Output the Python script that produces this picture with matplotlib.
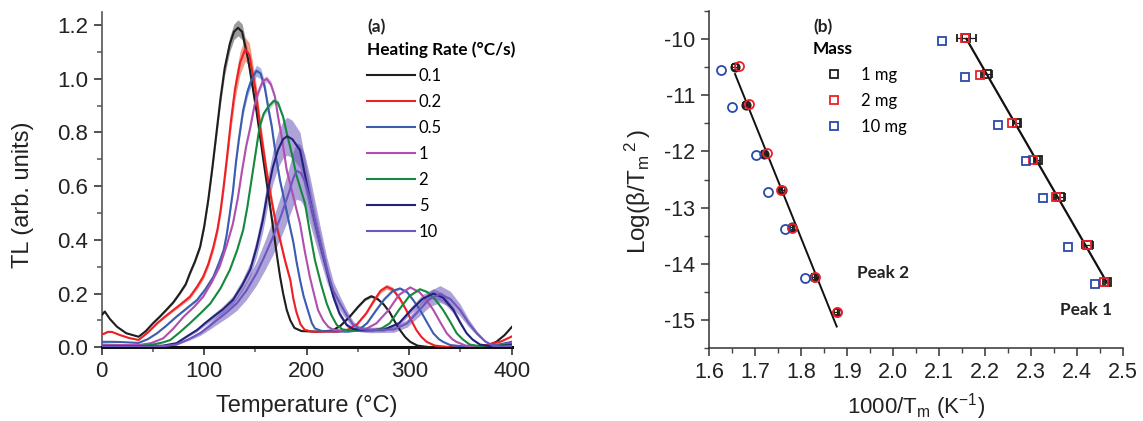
import numpy as np
import matplotlib
matplotlib.use("Agg")
import matplotlib.pyplot as plt
from matplotlib.lines import Line2D
from matplotlib.ticker import MultipleLocator, FormatStrFormatter

plt.rcParams['font.family'] = ['Liberation Sans', 'DejaVu Sans']
plt.rcParams['mathtext.fontset'] = 'custom'
plt.rcParams['mathtext.rm'] = 'Liberation Sans'
plt.rcParams['mathtext.it'] = 'Liberation Sans:italic'
plt.rcParams['axes.unicode_minus'] = False

# ---------------- Panel (a) data: TL glow curves ----------------
rates = ['0.1', '0.2', '0.5', '1', '2', '5', '10']

t_01 = [0, 3, 8, 15, 24, 36, 43, 50, 57, 63, 70, 76, 82, 86, 91, 96, 100, 104, 108, 112, 116, 120, 125, 129, 133,
        137, 143, 151, 158, 163, 167, 171, 174, 177, 180.5, 184, 188, 195, 210, 225, 233, 242, 250, 257, 263,
        269, 275, 281, 286, 291, 296, 301, 308, 320, 360, 375, 385, 393, 400]
tl_01 = [0.12, 0.133, 0.105, 0.076, 0.052, 0.039, 0.06, 0.089, 0.115, 0.139, 0.168, 0.20, 0.235, 0.275, 0.32, 0.374,
         0.45, 0.55, 0.67, 0.80, 0.93, 1.04, 1.13, 1.175, 1.19,
         1.175, 1.07, 0.88, 0.69, 0.56, 0.45, 0.34, 0.263, 0.20, 0.139, 0.10, 0.072, 0.06, 0.058, 0.062, 0.08,
         0.114, 0.15, 0.178, 0.19, 0.18, 0.16, 0.13, 0.095, 0.064, 0.038, 0.02, 0.006, 0.0, 0.0, 0.005, 0.02,
         0.045, 0.075]

t_02 = [0, 2, 6, 10, 18, 27, 36, 45, 54, 62, 70, 78, 86, 93, 99, 104, 109, 113, 116, 119, 122, 126, 130, 135, 140,
        144, 150, 156, 161, 166, 170, 174, 179, 184, 187, 190, 194, 198, 205, 230, 240, 249, 258, 265, 272, 278,
        284, 291, 297, 302, 307, 312, 317, 325, 340, 360, 375, 390, 400]
tl_02 = [0.048, 0.05, 0.057, 0.057, 0.045, 0.034, 0.027, 0.055, 0.089, 0.115, 0.139, 0.163, 0.188, 0.225, 0.263,
         0.31, 0.374, 0.44, 0.51, 0.60, 0.70, 0.84, 0.96, 1.06, 1.11,
         1.09, 0.96, 0.78, 0.65, 0.54, 0.46, 0.40, 0.32, 0.25, 0.18, 0.13, 0.085, 0.065, 0.058, 0.058, 0.065,
         0.085, 0.126, 0.17, 0.21, 0.225, 0.215, 0.18, 0.139, 0.10, 0.064, 0.038, 0.02, 0.006, 0.0, 0.002,
         0.008, 0.022, 0.04]

t_05 = [0, 10, 20, 30, 36, 45, 54, 63, 73, 83, 93, 101, 109, 114, 119, 122, 125, 128, 131, 134, 138, 142, 146, 151,
        155, 159, 163, 166, 170, 174, 178, 183, 187, 190, 193.5, 197, 201, 205, 208, 215, 240, 250, 259, 268,
        276, 284, 291, 298, 304, 310.5, 317, 323.5, 329, 333, 340, 355, 375, 390, 400]
tl_05 = [0.02, 0.02, 0.019, 0.017, 0.016, 0.03, 0.052, 0.08, 0.114, 0.145, 0.176, 0.215, 0.263, 0.31, 0.362, 0.42,
         0.499, 0.58, 0.69, 0.78, 0.883, 0.95, 0.995, 1.03,
         1.02, 0.97, 0.88, 0.82, 0.71, 0.62, 0.55, 0.46, 0.39, 0.32, 0.25, 0.19, 0.139, 0.09, 0.07, 0.06, 0.058,
         0.062, 0.09, 0.139, 0.18, 0.21, 0.219, 0.205, 0.175, 0.139, 0.095, 0.052, 0.03, 0.02, 0.008, 0.002,
         0.004, 0.012, 0.02]

t_1 = [0, 20, 36, 48, 60, 70, 80, 90, 99, 107, 115, 122, 128, 133, 137, 141, 145, 149, 153, 157, 161, 165, 169, 172,
       175.6, 180.5, 187, 193.5, 198, 203, 207, 211, 216, 221, 226, 235, 255, 268, 280, 290, 301, 310, 317,
       323.5, 330, 336.6, 342, 346, 355, 370, 385, 400]
tl_1 = [0.01, 0.008, 0.008, 0.015, 0.033, 0.07, 0.114, 0.15, 0.188, 0.24, 0.30, 0.38, 0.46, 0.56, 0.66, 0.75, 0.82,
        0.90, 0.952, 0.99, 1.0, 0.98, 0.933, 0.86,
        0.784, 0.66, 0.56, 0.46, 0.36, 0.263, 0.20, 0.139, 0.10, 0.076, 0.065, 0.062, 0.062, 0.089, 0.139, 0.195,
        0.223, 0.205, 0.175, 0.139, 0.095, 0.052, 0.03, 0.02, 0.006, 0.002, 0.006, 0.015]

t_2 = [0, 36, 50, 60, 67, 76, 86, 96, 106, 116, 125, 132, 138, 142, 146, 150, 154, 158, 162.5, 168, 172, 177, 181,
       185.4, 190, 194, 198.3, 203, 208, 214, 219.5, 224, 229.3, 235, 245, 265, 273, 281, 290, 300, 310.5, 318,
       326, 333, 340, 346.3, 352, 359, 370, 385, 400]
tl_2 = [0.005, 0.004, 0.01, 0.018, 0.027, 0.055, 0.089, 0.125, 0.163, 0.22, 0.288, 0.36, 0.437, 0.52, 0.62, 0.72,
        0.82, 0.87, 0.896, 0.918, 0.91, 0.858, 0.79,
        0.722, 0.64, 0.59, 0.536, 0.43, 0.325, 0.235, 0.163, 0.12, 0.083, 0.066, 0.062, 0.062, 0.07, 0.089, 0.139,
        0.19, 0.216, 0.205, 0.175, 0.139, 0.095, 0.052, 0.03, 0.01, 0.003, 0.005, 0.012]

t_5 = [0, 40, 60, 73, 83, 93, 101, 109, 118, 128, 137, 145, 151, 157, 162, 167, 172, 177, 181, 186, 193.5, 200, 206,
       213, 220, 226, 232, 239, 245, 255, 275, 290, 302, 313, 323.5, 333, 343, 350, 356, 362, 369, 380, 400]
tl_5 = [0.003, 0.003, 0.006, 0.015, 0.04, 0.064, 0.09, 0.114, 0.14, 0.176, 0.23, 0.29, 0.37, 0.47, 0.58, 0.67,
        0.735, 0.775, 0.786, 0.775, 0.734, 0.61, 0.50, 0.387, 0.28, 0.188, 0.125, 0.083, 0.068, 0.064, 0.065,
        0.089, 0.139, 0.18, 0.20, 0.185, 0.139, 0.09, 0.052, 0.028, 0.01, 0.003, 0.008]

t_10 = [0, 40, 60, 73, 85, 96, 104, 112, 122, 131.7, 141, 151, 159, 167, 175, 183, 187, 190, 194, 198, 203, 208, 213,
        219.5, 226, 232.5, 239, 245.5, 252, 262, 285, 298, 310, 320, 330, 340, 349.6, 358, 366, 374, 382, 390, 400]
tl_10 = [0.002, 0.002, 0.004, 0.01, 0.03, 0.052, 0.075, 0.10, 0.13, 0.163, 0.21, 0.275, 0.34, 0.41, 0.49, 0.58, 0.63,
         0.657, 0.65, 0.62, 0.55, 0.47, 0.39, 0.29, 0.21, 0.163, 0.12, 0.083, 0.068, 0.064, 0.066, 0.089, 0.139,
         0.18, 0.198, 0.18, 0.139, 0.09, 0.052, 0.022, 0.005, 0.003, 0.005]

curves_t = [t_01, t_02, t_05, t_1, t_2, t_5, t_10]
curves_tl = [tl_01, tl_02, tl_05, tl_1, tl_2, tl_5, tl_10]
rel_err = [0.025, 0.04, 0.02, 0.012, 0.012, 0.09, 0.16]

line_colors = ['#1e1e1e', '#ee2027', '#3a5db0', '#b04fb0', '#17893f', '#22227a', '#6f55bf']
band_colors = ['#7a7a7a', '#f27a62', '#8194d4', '#d393d3', '#7cc596', '#6a58b8', '#6a58b8']
band_alpha = [0.75, 0.75, 0.7, 0.6, 0.6, 0.55, 0.55]

# ---------------- Panel (b) data: Arrhenius-type plot ----------------
p2_x_1mg = [1.656, 1.680, 1.719, 1.759, 1.780, 1.828, 1.877]
p2_y_1mg = [-10.50, -11.17, -12.05, -12.69, -13.35, -14.23, -14.86]
p2_xerr_1mg = [0.006, 0.006, 0.005, 0.005, 0.005, 0.005, 0.005]
p2_yerr_1mg = [0.05, 0.05, 0.05, 0.05, 0.05, 0.05, 0.05]
p2_x_2mg = [1.664, 1.687, 1.726, 1.756, 1.780, 1.829, 1.878]
p2_y_2mg = [-10.49, -11.16, -12.03, -12.69, -13.36, -14.23, -14.86]
p2_x_10mg = [1.625, 1.649, 1.701, 1.728, 1.764, 1.809]
p2_y_10mg = [-10.55, -11.22, -12.06, -12.73, -13.38, -14.25]

p1_x_1mg = [2.159, 2.203, 2.268, 2.314, 2.362, 2.423, 2.465]
p1_y_1mg = [-9.98, -10.63, -11.49, -12.15, -12.81, -13.67, -14.33]
p1_xerr_1mg = [0.020, 0.012, 0.007, 0.005, 0.012, 0.012, 0.004]
p1_x_2mg = [2.156, 2.188, 2.257, 2.304, 2.353, 2.420, 2.457]
p1_y_2mg = [-9.98, -10.65, -11.50, -12.15, -12.81, -13.67, -14.33]
p1_x_10mg = [2.105, 2.155, 2.227, 2.288, 2.325, 2.380, 2.439]
p1_y_10mg = [-10.03, -10.68, -11.53, -12.17, -12.83, -13.70, -14.35]

fit_p2 = (-20.3, 22.99)   # slope, intercept
fit_p1 = (-14.17, 20.59)
mass_labels = ['1 mg', '2 mg', '10 mg']
mass_colors = ['#1e1e1e', '#ee2027', '#2a4aa8']

# ---------------- Figure ----------------
W, H = 1143, 421
fig = plt.figure(figsize=(W / 100, H / 100), dpi=100)


def fx(px):
    return px / W


def fy(py):
    return 1 - py / H


axA = fig.add_axes([fx(101.7), fy(347.2), fx(511.7) - fx(101.7), fy(11.7) - fy(347.2)])
axB = fig.add_axes([fx(709.3), fy(348.3), fx(1123.3) - fx(709.3), fy(10.7) - fy(348.3)])

legend_font = 'Lato'

# ----- panel (a)
handles = []
for t, tl, f, bc, ba in zip(curves_t, curves_tl, rel_err, band_colors, band_alpha):
    t = np.asarray(t, float)
    tl = np.asarray(tl, float)
    axA.fill_between(t, tl * (1 - f), tl * (1 + f), color=bc, alpha=ba, lw=0, zorder=1)
for t, tl, lc, lab in zip(curves_t, curves_tl, line_colors, rates):
    h, = axA.plot(t, tl, color=lc, lw=1.5, zorder=3, label=lab, solid_joinstyle='round')
    handles.append(h)

axA.set_xlim(0, 400)
axA.set_ylim(0, 1.25)
axA.xaxis.set_major_locator(MultipleLocator(100))
axA.xaxis.set_minor_locator(MultipleLocator(50))
axA.yaxis.set_major_locator(MultipleLocator(0.2))
axA.yaxis.set_minor_locator(MultipleLocator(0.1))
axA.yaxis.set_major_formatter(FormatStrFormatter('%.1f'))
for s in ['top', 'right']:
    axA.spines[s].set_visible(False)
axA.spines['left'].set_linewidth(1.2)
axA.spines['left'].set_color('#555555')
axA.spines['bottom'].set_linewidth(2.2)
axA.spines['bottom'].set_color('#111111')
axA.tick_params(which='major', direction='out', length=6, width=1.2, labelsize=16, pad=4, colors='#333333',
                labelcolor='#222222')
axA.tick_params(which='minor', direction='out', length=3.5, width=1.1, colors='#555555')
axA.set_xlabel('Temperature (°C)', fontsize=17, color='#222222', labelpad=9)
axA.set_ylabel('TL (arb. units)', fontsize=17, color='#222222')
axA.yaxis.set_label_coords(-0.165, 0.454)

legA = axA.legend(handles=handles, labels=rates, loc='upper left', bbox_to_anchor=(fx(367), fy(41)),
                  bbox_transform=fig.transFigure, frameon=False, borderpad=0, borderaxespad=0,
                  handlelength=2.85, handletextpad=0.25, labelspacing=0.6,
                  title='Heating Rate (°C/s)', alignment='left',
                  prop={'family': legend_font, 'size': 12},
                  title_fontproperties={'family': legend_font, 'size': 12.4, 'weight': 'bold'})
for l in legA.get_lines():
    l.set_linewidth(1.5)
fig.text(fx(367), fy(26.7), '(a)', fontsize=12.5, family=legend_font, weight='bold', va='center', ha='left',
         color='#222222')

# ----- panel (b)
axB.errorbar(p2_x_1mg, p2_y_1mg, xerr=p2_xerr_1mg, yerr=p2_yerr_1mg, fmt='o', mfc='none', mec=mass_colors[0],
             ms=6, mew=1.3, ecolor=mass_colors[0], elinewidth=0.9, capsize=2, zorder=3)
axB.plot(p2_x_2mg, p2_y_2mg, 'o', mfc='none', mec=mass_colors[1], ms=6.5, mew=1.3, zorder=4)
axB.plot(p2_x_10mg, p2_y_10mg, 'o', mfc='none', mec=mass_colors[2], ms=6.5, mew=1.3, zorder=4)

axB.errorbar(p1_x_1mg, p1_y_1mg, xerr=p1_xerr_1mg, fmt='s', mfc='none', mec=mass_colors[0],
             ms=5.5, mew=1.3, ecolor=mass_colors[0], elinewidth=0.9, capsize=3, zorder=3)
axB.plot(p1_x_2mg, p1_y_2mg, 's', mfc='none', mec=mass_colors[1], ms=5.5, mew=1.3, zorder=4)
axB.plot(p1_x_10mg, p1_y_10mg, 's', mfc='none', mec=mass_colors[2], ms=5.5, mew=1.3, zorder=4)

xx2 = np.array([min(p2_x_1mg), max(p2_x_1mg)])
axB.plot(xx2, fit_p2[0] * xx2 + fit_p2[1], color='#111111', lw=1.4, zorder=2)
xx1 = np.array([min(p1_x_1mg), max(p1_x_1mg)])
axB.plot(xx1, fit_p1[0] * xx1 + fit_p1[1], color='#111111', lw=1.6, zorder=2)

axB.set_xlim(1.6, 2.5)
axB.set_ylim(-15.5, -9.5)
axB.xaxis.set_major_locator(MultipleLocator(0.1))
axB.xaxis.set_minor_locator(MultipleLocator(0.05))
axB.xaxis.set_major_formatter(FormatStrFormatter('%.1f'))
axB.yaxis.set_major_locator(MultipleLocator(1))
axB.yaxis.set_minor_locator(MultipleLocator(0.5))
for s in ['top', 'right']:
    axB.spines[s].set_visible(False)
for s in ['left', 'bottom']:
    axB.spines[s].set_linewidth(1.1)
    axB.spines[s].set_color('#333333')
axB.tick_params(which='major', direction='out', length=6, width=1.1, labelsize=15.5, pad=4, colors='#333333',
                labelcolor='#222222')
axB.tick_params(which='minor', direction='out', length=3.5, width=1.0, colors='#444444')
axB.set_xlabel('1000/T$_\\mathrm{m}$ (K$^{\\mathrm{-1}}$)', fontsize=16, color='#222222', labelpad=6)
axB.set_ylabel('Log(β/T$_{\\mathrm{m}}\\,{}^{\\mathrm{2}}\\,$)', fontsize=17.5, color='#222222')
axB.yaxis.set_label_coords(-0.136, 0.463)

mass_handles = [Line2D([], [], ls='none', marker='s', mfc='none', mec=c, ms=5.5, mew=1.3) for c in mass_colors]
legB = axB.legend(handles=mass_handles, labels=mass_labels, loc='upper left', bbox_to_anchor=(fx(813), fy(41)),
                  bbox_transform=fig.transFigure, frameon=False, borderpad=0, borderaxespad=0,
                  handlelength=2.5, handletextpad=0.4, labelspacing=0.6,
                  title='Mass', alignment='left',
                  prop={'family': legend_font, 'size': 12},
                  title_fontproperties={'family': legend_font, 'size': 12.4, 'weight': 'bold'})
fig.text(fx(813), fy(26.7), '(b)', fontsize=12.5, family=legend_font, weight='bold', va='center', ha='left',
         color='#222222')
fig.text(fx(857), fy(273), 'Peak 2', fontsize=12.4, family=legend_font, weight='bold', va='center', ha='left',
         color='#222222')
fig.text(fx(1060), fy(310), 'Peak 1', fontsize=12.4, family=legend_font, weight='bold', va='center', ha='left',
         color='#222222')

fig.savefig('out.png', dpi=100)
